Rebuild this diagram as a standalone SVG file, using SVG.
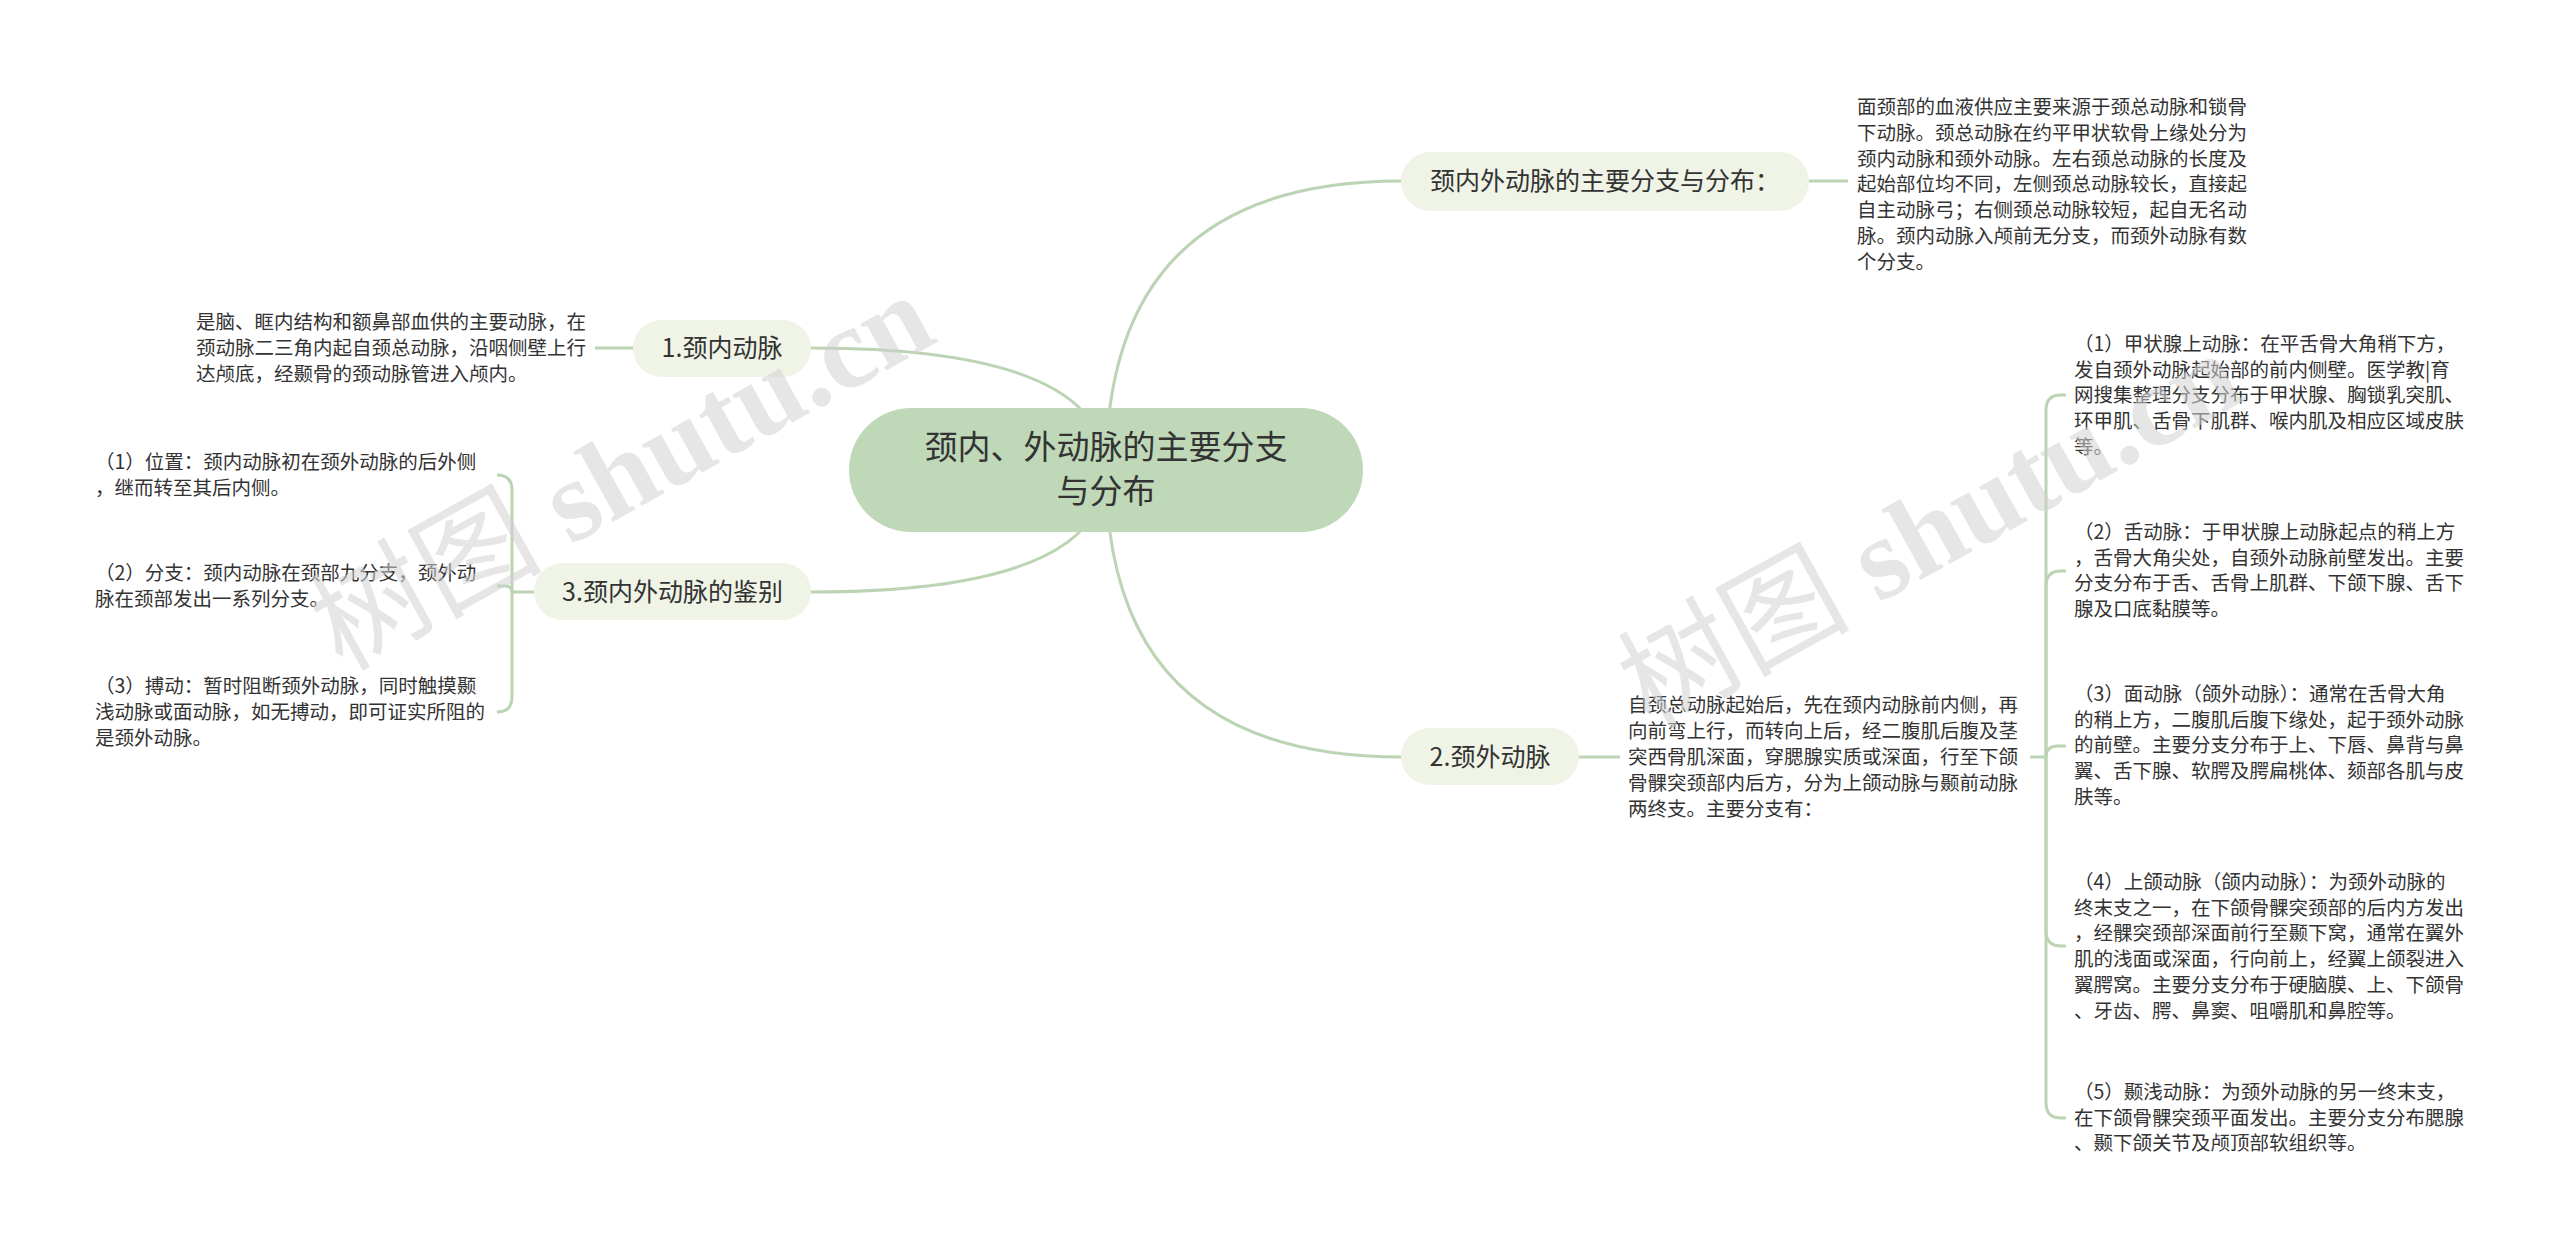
<svg xmlns="http://www.w3.org/2000/svg" width="2560" height="1251" viewBox="0 0 2560 1251">
<style>
.t{font-family:"Noto Sans CJK SC","Noto Sans",sans-serif;fill:#333333}
.d{font-size:19.5px}
.n1{font-size:25px;text-anchor:middle}
.root{font-size:33px;text-anchor:middle}
.nb{fill:#eff4e6}
.rb{fill:#bfd8b8}
.c{fill:none;stroke:#bcd4b4;stroke-width:3}
.wm{font-family:"Liberation Serif","Noto Sans CJK SC",serif;font-size:116px;font-weight:bold;fill:#d2d2d2;opacity:0.55}
.wc{font-family:"Noto Sans CJK SC",sans-serif;font-weight:normal}
</style>
<rect width="2560" height="1251" fill="#ffffff"/>
<g id="connectors">
<path class="c" d="M1106 470 Q1106 348 811 348"/>
<path class="c" d="M1106 470 Q1106 592 811 592"/>
<path class="c" d="M1106 470 Q1106 181 1401 181"/>
<path class="c" d="M1106 470 Q1106 757 1401 757"/>
<path class="c" d="M633 348 L595 348"/>
<path class="c" d="M1809 181 L1848 181"/>
<path class="c" d="M1579 757 L1620 757"/>
<path class="c" d="M534 592 L512 592"/>
<path class="c" d="M512 592 L512 490 Q512 475 497 475"/>
<path class="c" d="M512 592 Q512 586 505 586 L497 586"/>
<path class="c" d="M512 592 L512 697 Q512 712 497 712"/>
<path class="c" d="M2030 757 L2046 757"/>
<path class="c" d="M2046 757 L2046 410 Q2046 395 2061 395 L2066 395"/>
<path class="c" d="M2046 757 L2046 586 Q2046 571 2061 571 L2066 571"/>
<path class="c" d="M2046 757 Q2046 746 2058 746 L2066 746"/>
<path class="c" d="M2046 757 L2046 931 Q2046 946 2061 946 L2066 946"/>
<path class="c" d="M2046 757 L2046 1103 Q2046 1118 2061 1118 L2066 1118"/>
</g>
<g id="root">
<rect class="rb" x="849" y="408" width="514" height="124" rx="62"/>
<text class="t root" x="1106" y="459">颈内、外动脉的主要分支</text>
<text class="t root" x="1106" y="503">与分布</text>
</g>
<g id="nodeA">
<rect class="nb" x="1401" y="152" width="408" height="59" rx="29.5"/>
<text class="t n1" x="1605" y="190">颈内外动脉的主要分支与分布：</text>
</g>
<g id="descA">
<text class="t d" x="1857" y="114"><tspan x="1857" dy="0">面颈部的血液供应主要来源于颈总动脉和锁骨</tspan><tspan x="1857" dy="25.8">下动脉。颈总动脉在约平甲状软骨上缘处分为</tspan><tspan x="1857" dy="25.8">颈内动脉和颈外动脉。左右颈总动脉的长度及</tspan><tspan x="1857" dy="25.8">起始部位均不同，左侧颈总动脉较长，直接起</tspan><tspan x="1857" dy="25.8">自主动脉弓；右侧颈总动脉较短，起自无名动</tspan><tspan x="1857" dy="25.8">脉。颈内动脉入颅前无分支，而颈外动脉有数</tspan><tspan x="1857" dy="25.8">个分支。</tspan></text>
</g>
<g id="node1">
<rect class="nb" x="633" y="320" width="178" height="57" rx="28.5"/>
<text class="t n1" x="722" y="357">1.颈内动脉</text>
</g>
<g id="desc1">
<text class="t d" x="196" y="329"><tspan x="196" dy="0">是脑、眶内结构和额鼻部血供的主要动脉，在</tspan><tspan x="196" dy="26">颈动脉二三角内起自颈总动脉，沿咽侧壁上行</tspan><tspan x="196" dy="26">达颅底，经颞骨的颈动脉管进入颅内。</tspan></text>
</g>
<g id="node3">
<rect class="nb" x="534" y="563" width="277" height="57" rx="28.5"/>
<text class="t n1" x="672.5" y="601">3.颈内外动脉的鉴别</text>
</g>
<g id="desc3-1">
<text class="t d" x="95" y="469"><tspan x="95" dy="0">（1）位置：颈内动脉初在颈外动脉的后外侧</tspan><tspan x="95" dy="26">，继而转至其后内侧。</tspan></text>
</g>
<g id="desc3-2">
<text class="t d" x="95" y="580"><tspan x="95" dy="0">（2）分支：颈内动脉在颈部九分支，颈外动</tspan><tspan x="95" dy="26">脉在颈部发出一系列分支。</tspan></text>
</g>
<g id="desc3-3">
<text class="t d" x="95" y="693"><tspan x="95" dy="0">（3）搏动：暂时阻断颈外动脉，同时触摸颞</tspan><tspan x="95" dy="26">浅动脉或面动脉，如无搏动，即可证实所阻的</tspan><tspan x="95" dy="26">是颈外动脉。</tspan></text>
</g>
<g id="node2">
<rect class="nb" x="1401" y="728" width="178" height="57" rx="28.5"/>
<text class="t n1" x="1490" y="766">2.颈外动脉</text>
</g>
<g id="desc2">
<text class="t d" x="1628" y="712"><tspan x="1628" dy="0">自颈总动脉起始后，先在颈内动脉前内侧，再</tspan><tspan x="1628" dy="26">向前弯上行，而转向上后，经二腹肌后腹及茎</tspan><tspan x="1628" dy="26">突西骨肌深面，穿腮腺实质或深面，行至下颌</tspan><tspan x="1628" dy="26">骨髁突颈部内后方，分为上颌动脉与颞前动脉</tspan><tspan x="1628" dy="26">两终支。主要分支有：</tspan></text>
</g>
<g id="desc2-1">
<text class="t d" x="2074" y="351"><tspan x="2074" dy="0">（1）甲状腺上动脉：在平舌骨大角稍下方，</tspan><tspan x="2074" dy="25.7">发自颈外动脉起始部的前内侧壁。医学教|育</tspan><tspan x="2074" dy="25.7">网搜集整理分支分布于甲状腺、胸锁乳突肌、</tspan><tspan x="2074" dy="25.7">环甲肌、舌骨下肌群、喉内肌及相应区域皮肤</tspan><tspan x="2074" dy="25.7">等。</tspan></text>
</g>
<g id="desc2-2">
<text class="t d" x="2074" y="539"><tspan x="2074" dy="0">（2）舌动脉：于甲状腺上动脉起点的稍上方</tspan><tspan x="2074" dy="25.7">，舌骨大角尖处，自颈外动脉前壁发出。主要</tspan><tspan x="2074" dy="25.7">分支分布于舌、舌骨上肌群、下颌下腺、舌下</tspan><tspan x="2074" dy="25.7">腺及口底黏膜等。</tspan></text>
</g>
<g id="desc2-3">
<text class="t d" x="2074" y="701"><tspan x="2074" dy="0">（3）面动脉（颌外动脉）：通常在舌骨大角</tspan><tspan x="2074" dy="25.7">的稍上方，二腹肌后腹下缘处，起于颈外动脉</tspan><tspan x="2074" dy="25.7">的前壁。主要分支分布于上、下唇、鼻背与鼻</tspan><tspan x="2074" dy="25.7">翼、舌下腺、软腭及腭扁桃体、颏部各肌与皮</tspan><tspan x="2074" dy="25.7">肤等。</tspan></text>
</g>
<g id="desc2-4">
<text class="t d" x="2074" y="889"><tspan x="2074" dy="0">（4）上颌动脉（颌内动脉）：为颈外动脉的</tspan><tspan x="2074" dy="25.7">终末支之一，在下颌骨髁突颈部的后内方发出</tspan><tspan x="2074" dy="25.7">，经髁突颈部深面前行至颞下窝，通常在翼外</tspan><tspan x="2074" dy="25.7">肌的浅面或深面，行向前上，经翼上颌裂进入</tspan><tspan x="2074" dy="25.7">翼腭窝。主要分支分布于硬脑膜、上、下颌骨</tspan><tspan x="2074" dy="25.7">、牙齿、腭、鼻窦、咀嚼肌和鼻腔等。</tspan></text>
</g>
<g id="desc2-5">
<text class="t d" x="2074" y="1099"><tspan x="2074" dy="0">（5）颞浅动脉：为颈外动脉的另一终末支，</tspan><tspan x="2074" dy="25.7">在下颌骨髁突颈平面发出。主要分支分布腮腺</tspan><tspan x="2074" dy="25.7">、颞下颌关节及颅顶部软组织等。</tspan></text>
</g>
<g id="watermark">
<text class="wm" transform="translate(342 672) rotate(-29)"><tspan class="wc">树图</tspan> shutu.cn</text>
<text class="wm" transform="translate(1650 730) rotate(-29)"><tspan class="wc">树图</tspan> shutu.cn</text>
</g>
</svg>
